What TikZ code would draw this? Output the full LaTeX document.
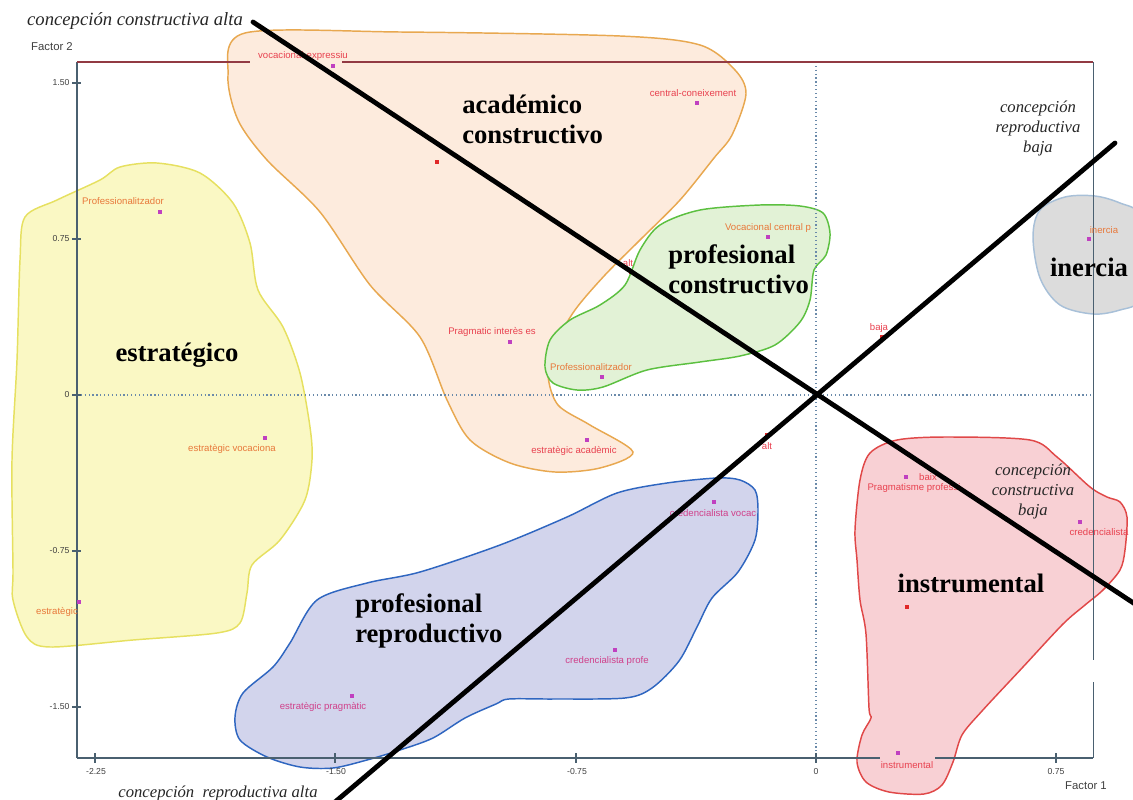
\documentclass[tikz,border=0pt]{standalone}
\usepackage{fontspec}
\setmainfont{Liberation Serif}
\newfontfamily\labfont{Liberation Sans}
\definecolor{peachfill}{HTML}{FDEBDD}
\definecolor{peachline}{HTML}{E8A850}
\definecolor{yelfill}{HTML}{FAF8C4}
\definecolor{yelline}{HTML}{E6E060}
\definecolor{grnfill}{HTML}{E2F2D6}
\definecolor{grnline}{HTML}{5CC040}
\definecolor{grayfill}{HTML}{DCDCDC}
\definecolor{grayline}{HTML}{A8C0D8}
\definecolor{redfill}{HTML}{F8D0D4}
\definecolor{redline}{HTML}{E04848}
\definecolor{blufill}{HTML}{D2D4EC}
\definecolor{bluline}{HTML}{2F66C0}
\definecolor{ptcol}{HTML}{C040C0}
\definecolor{ctcol}{HTML}{E02828}
\definecolor{labred}{HTML}{E8414F}
\definecolor{laborg}{HTML}{E8783A}
\definecolor{labmag}{HTML}{D0408A}
\definecolor{framecol}{HTML}{4A6070}
\definecolor{dotcol}{HTML}{6A8AAA}
\begin{document}
\begin{tikzpicture}[x=0.75pt,y=-0.75pt,
  hull/.style={line width=1.1pt},
  ptm/.style={rectangle,fill=ptcol,inner sep=0pt,minimum size=3.4pt},
  ctr/.style={rectangle,fill=ctcol,inner sep=0pt,minimum size=3.4pt},
  lab/.style={font=\labfont\fontsize{7.2}{8}\selectfont,text=labred,inner sep=0.5pt},
  labo/.style={lab,text=laborg},
  labm/.style={lab,text=labmag},
  big/.style={font=\bfseries\fontsize{20}{22.5}\selectfont,align=left,inner sep=0pt},
  conc/.style={font=\itshape\fontsize{12.5}{15}\selectfont,align=center,text=black!85,inner sep=0pt},
  ticklab/.style={font=\labfont\fontsize{6.5}{7}\selectfont,text=black!75,inner sep=1pt},
  frame/.style={framecol,line width=0.9pt},
  axisdot/.style={dotcol,dotted,line width=0.9pt},
  sepline/.style={line width=3.6pt,black,line cap=round}]
\useasboundingbox (0,0) rectangle (1133,800);
\clip (0,0) rectangle (1133,800);

% hulls
\draw[hull,fill=peachfill,draw=peachline] plot[smooth cycle,tension=0.5] coordinates {
 (245,33) (400,32) (620,36) (700,45) (735,70) (746,94) (732,135) (714,158)
 (680,200) (640,240) (605,275) (575,310) (555,345) (548,375) (558,405)
 (590,425) (633,452) (600,468) (555,472) (510,463) (470,440) (447,400)
 (420,337) (370,285) (320,212) (267,160) (238,120) (228,75)};
\draw[hull,fill=yelfill,draw=yelline] plot[smooth cycle,tension=0.5] coordinates {
 (13,570) (12,460) (17,360) (20,260) (25,217) (57,200) (100,180) (120,167)
 (157,163) (200,173) (233,203) (250,243) (258,290) (283,327) (300,373)
 (310,427) (312,460) (305,500) (280,540) (252,565) (247,593) (240,623)
 (217,633) (133,640) (50,647) (27,637) (13,600)};
\draw[hull,fill=grnfill,draw=grnline] plot[smooth cycle,tension=0.5] coordinates {
 (545,367) (553,383) (577,390) (603,387) (647,370) (700,362) (740,356)
 (775,345) (800,322) (810,300) (814,270) (826,255) (830,233) (823,213)
 (800,206) (760,205) (700,210) (660,225) (640,250) (625,285) (600,305)
 (570,320) (550,340)};
\draw[hull,fill=grayfill,draw=grayline] plot[smooth cycle,tension=0.55] coordinates {
 (1033,237) (1040,210) (1065,197) (1095,196) (1120,203) (1140,215)
 (1145,260) (1140,300) (1120,310) (1093,314) (1060,305) (1040,278)};
\draw[hull,fill=redfill,draw=redline] plot[smooth cycle,tension=0.5] coordinates {
 (870,453) (897,440) (947,437) (1030,440) (1057,457) (1090,487) (1107,497)
 (1120,502) (1127,517) (1125,550) (1120,570) (1103,590) (1085,605)
 (1063,624) (1023,667) (982,711) (962,735) (953,762) (942,785) (924,794)
 (889,792) (866,782) (857,762) (862,735) (871,718) (869,708) (866,634)
 (860,600) (857,560) (855,530) (860,480)};
\draw[hull,fill=blufill,draw=bluline] plot[smooth cycle,tension=0.5] coordinates {
 (420,572) (367,583) (317,600) (290,643) (273,667) (243,693) (235,717)
 (240,740) (267,757) (300,767) (333,768) (367,760) (400,750) (433,738)
 (465,718) (496,704) (509,699) (554,699) (625,698) (652,688) (679,661)
 (697,627) (712,598) (738,572) (755,540) (758,510) (755,490) (740,480)
 (717,478) (667,483) (617,493) (567,517) (500,545)};

% axes and frame
\draw[axisdot] (77,395) -- (1093,395);
\draw[axisdot] (816,62) -- (816,758);
\draw[frame] (77,62) -- (77,758);
\draw[frame] (77,758) -- (880,758) (935,758) -- (1093,758);
\draw[frame,line width=0.6pt] (1093,62) -- (1093,660) (1093,682) -- (1093,758);
\draw[frame,draw=framecol!60!red] (77,62) -- (250,62) (342,62) -- (1093,62);
\foreach \yy in {83,239,395,551,707} \draw[frame] (72,\yy) -- (81,\yy);
\foreach \xx in {95,335,576,816,1056} \draw[frame] (\xx,753) -- (\xx,763);
\node[ticklab,anchor=east] (t150) at (71,83) {1.50};
\node[ticklab,anchor=east] (t075) at (71,239) {0.75};
\node[ticklab,anchor=east] (t0) at (71,395) {0};
\node[ticklab,anchor=east] (tm075) at (71,551) {-0.75};
\node[ticklab,anchor=east] (tm150) at (71,707) {-1.50};
\node[ticklab] (xm225) at (96,772) {-2.25};
\node[ticklab] (xm150) at (336,772) {-1.50};
\node[ticklab] (xm075) at (577,772) {-0.75};
\node[ticklab] (x0) at (816,772) {0};
\node[ticklab] (x075) at (1056,772) {0.75};
\node[ticklab,font=\labfont\fontsize{8.5}{9}\selectfont] (f2) at (52,47) {Factor 2};
\node[ticklab,font=\labfont\fontsize{8.5}{9}\selectfont] (f1) at (1086,786) {Factor 1};

% points and labels
\node[ptm] (p1) at (333,66) {};
\node[lab] (l1) at (303,56) {vocacional-expressiu};
\node[ptm] (p2) at (697,103) {};
\node[lab] (l2) at (693,93) {central-coneixement};
\node[ctr] (c1) at (437,162) {};
\node[ptm] (p3) at (160,212) {};
\node[labo] (l3) at (123,201) {Professionalitzador};
\node[ptm] (p4) at (768,237) {};
\node[labo] (l4) at (768,228) {Vocacional central p};
\node[ctr] (c2) at (631,272) {};
\node[lab] (lc2) at (628,263) {alt};
\node[ptm] (p5) at (1089,239) {};
\node[labo] (l5) at (1104,230) {inercia};
\node[ctr] (c5) at (882,337) {};
\node[lab] (lc5) at (879,328) {baja};
\node[ptm] (p6) at (510,342) {};
\node[lab] (l6) at (492,332) {Pragmatic interès es};
\node[ptm] (p7) at (602,377) {};
\node[labo] (l7) at (591,367) {Professionalitzador};
\node[ptm] (p8) at (265,438) {};
\node[labo] (l8) at (232,449) {estratègic vocaciona};
\node[ptm] (p9) at (587,440) {};
\node[lab] (l9) at (574,451) {estratègic acadèmic};
\node[ctr] (c3) at (767,435) {};
\node[lab] (lc3) at (767,446) {alt};
\node[ptm] (p10) at (906,477) {};
\node[lab] (l10a) at (928,477) {baix};
\node[lab] (l10b) at (914,488) {Pragmatisme professi};
\node[ptm] (p11) at (714,502) {};
\node[labm] (l11) at (713,513) {credencialista vocac};
\node[ptm] (p12) at (1080,522) {};
\node[lab] (l12) at (1099,532) {credencialista};
\node[ctr] (c4) at (907,607) {};
\node[ptm] (p13) at (79,602) {};
\node[labo] (l13) at (57,612) {estratègic};
\node[ptm] (p14) at (615,650) {};
\node[labm] (l14) at (607,661) {credencialista profe};
\node[ptm] (p15) at (352,696) {};
\node[labm] (l15) at (323,707) {estratègic pragmàtic};
\node[ptm] (p16) at (898,753) {};
\node[lab] (l16) at (907,765) {instrumental};

% separating lines
\coordinate (ccA) at (253,22);
\coordinate (ccB) at (1135,604);
\coordinate (crA) at (335,802);
\coordinate (crB) at (1115,143);
\draw[sepline] (ccA) -- (ccB);
\draw[sepline] (crA) -- (crB);

% group labels
\node[big,anchor=west] (gac) at (462,119) {académico\\constructivo};
\node[big,anchor=west] (gpc) at (668,269) {profesional\\constructivo};
\node[big] (gin) at (1089,267) {inercia};
\node[big] (ges) at (177,355) {estratégico};
\node[big,anchor=west] (gpr) at (355,621) {profesional\\reproductivo};
\node[big] (gis) at (971,583) {instrumental};

% conception labels
\node[conc,font=\itshape\fontsize{14}{16}\selectfont] (cca) at (135,21) {concepción constructiva alta};
\node[conc] (crb) at (1038,128) {concepción\\reproductiva\\baja};
\node[conc] (ccb) at (1033,491) {concepción\\constructiva\\baja};
\node[conc] (cra) at (218,793) {concepción\ \ reproductiva alta};
\end{tikzpicture}
\end{document}
